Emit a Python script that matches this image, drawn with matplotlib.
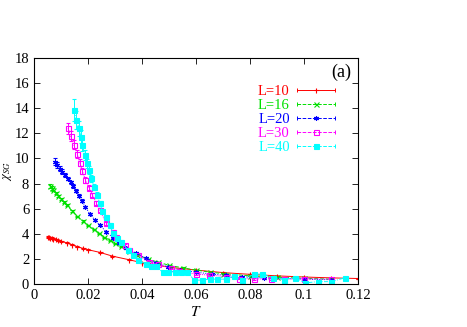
import matplotlib
matplotlib.use("Agg")
import matplotlib.pyplot as plt
from matplotlib.lines import Line2D
from matplotlib.legend_handler import HandlerBase

plt.rcParams['font.family'] = ['Liberation Serif', 'DejaVu Serif']
plt.rcParams['mathtext.fontset'] = 'stix'

# data
T10 = [0.005, 0.0055, 0.006, 0.0065, 0.007, 0.008, 0.009, 0.010, 0.012, 0.014, 0.016, 0.018,
       0.020, 0.0245, 0.029, 0.035, 0.040, 0.050, 0.060, 0.070, 0.080, 0.090, 0.100, 0.110, 0.120]
X10 = [3.75, 3.72, 3.70, 3.67, 3.63, 3.56, 3.50, 3.42, 3.28, 3.13, 2.98, 2.85,
       2.74, 2.52, 2.23, 1.95, 1.70, 1.35, 1.12, 0.92, 0.78, 0.66, 0.57, 0.50, 0.45]
E10 = [0.05, 0.05, 0.05, 0.05, 0.05, 0.04, 0.04, 0.04, 0.04, 0.04, 0.03, 0.03,
       0.03, 0.03, 0.03, 0.03, 0.02, 0.02, 0.02, 0.02, 0.02, 0.02, 0.02, 0.02, 0.02]

T16 = [0.006, 0.0065, 0.007, 0.008, 0.009, 0.010, 0.011, 0.012, 0.014, 0.016, 0.018, 0.020,
       0.022, 0.024, 0.026, 0.028, 0.030, 0.032, 0.035, 0.038, 0.042, 0.046, 0.050, 0.055,
       0.060, 0.065, 0.070, 0.080, 0.090, 0.100, 0.110]
X16 = [7.80, 7.65, 7.50, 7.25, 7.00, 6.75, 6.50, 6.28, 5.85, 5.40, 5.02, 4.68,
       4.35, 4.05, 3.75, 3.50, 3.25, 3.00, 2.65, 2.35, 2.00, 1.75, 1.50, 1.30,
       1.12, 0.96, 0.84, 0.66, 0.55, 0.47, 0.40]
E16 = [0.15, 0.12, 0.12, 0.10, 0.10, 0.08, 0.08, 0.08, 0.07, 0.06, 0.06, 0.05,
       0.05, 0.05, 0.04, 0.04, 0.04, 0.04, 0.03, 0.03, 0.03, 0.03, 0.03, 0.03,
       0.02, 0.02, 0.02, 0.02, 0.02, 0.02, 0.02]

T20 = [0.0077, 0.0085, 0.0095, 0.0105, 0.0115, 0.0125, 0.0135, 0.0145, 0.0155, 0.0165,
       0.0177, 0.0190, 0.0206, 0.0225, 0.0243, 0.0268, 0.0292, 0.0315, 0.0340, 0.0378,
       0.0415, 0.0452, 0.0494, 0.0540, 0.0600, 0.0660, 0.0710, 0.0770, 0.0850, 0.0930,
       0.1000, 0.1100]
X20 = [9.75, 9.50, 9.20, 8.95, 8.70, 8.40, 8.10, 7.80, 7.45, 7.05, 6.65, 6.15,
       5.60, 5.10, 4.70, 4.15, 3.70, 3.30, 2.90, 2.45, 2.05, 1.72, 1.38, 1.15,
       0.95, 0.80, 0.70, 0.60, 0.50, 0.45, 0.40, 0.35]
E20 = [0.25, 0.22, 0.20, 0.18, 0.16, 0.15, 0.14, 0.13, 0.12, 0.11, 0.10, 0.10,
       0.09, 0.08, 0.07, 0.07, 0.06, 0.06, 0.05, 0.05, 0.05, 0.04, 0.04, 0.04,
       0.04, 0.04, 0.04, 0.04, 0.04, 0.04, 0.04, 0.04]

T30 = [0.0126, 0.0135, 0.0147, 0.0160, 0.0169, 0.0179, 0.0190, 0.0204, 0.0216, 0.0231,
       0.0243, 0.0268, 0.0292, 0.0305, 0.0335, 0.0350, 0.0384, 0.0427, 0.0458, 0.0507,
       0.0538, 0.0600, 0.0648, 0.0710, 0.0759, 0.0815, 0.0876, 0.0925, 0.1000, 0.1100]
X30 = [12.40, 11.75, 11.10, 10.36, 9.67, 9.00, 8.29, 7.67, 7.09, 6.43,
       5.90, 4.84, 4.17, 3.77, 3.10, 2.70, 2.30, 1.78, 1.57, 1.25,
       1.03, 0.80, 0.72, 0.60, 0.45, 0.42, 0.42, 0.40, 0.43, 0.40]
E30 = [0.45, 0.40, 0.35, 0.30, 0.28, 0.25, 0.22, 0.20, 0.18, 0.16,
       0.15, 0.12, 0.10, 0.10, 0.08, 0.08, 0.07, 0.06, 0.06, 0.05,
       0.05, 0.05, 0.05, 0.05, 0.05, 0.05, 0.05, 0.05, 0.05, 0.05]

T40 = [0.0147, 0.0157, 0.0166, 0.0173, 0.0178, 0.0188, 0.0196, 0.0204, 0.0212, 0.0222,
       0.0233, 0.0243, 0.0253, 0.0268, 0.0280, 0.0292, 0.0307, 0.0323, 0.0347, 0.0366,
       0.0384, 0.0415, 0.0434, 0.0452, 0.0476, 0.0494, 0.0520, 0.0543, 0.0568, 0.0593,
       0.0620, 0.0650, 0.0678, 0.0709, 0.0740, 0.0770, 0.0814, 0.0845, 0.0886, 0.0925,
       0.0965, 0.1004, 0.1050, 0.1100, 0.1150]
X40 = [13.86, 13.07, 12.40, 11.74, 11.08, 10.28, 9.62, 9.08, 8.42, 7.75,
       7.09, 6.43, 5.82, 5.36, 4.70, 4.09, 3.64, 3.37, 2.71, 2.31,
       1.91, 1.59, 1.46, 1.43, 0.93, 0.98, 0.98, 0.98, 0.93, 0.32,
       0.32, 0.40, 0.40, 0.40, 0.66, 0.32, 0.80, 0.80, 0.53, 0.37,
       0.53, 0.10, 0.20, 0.20, 0.50]
E40 = [0.90, 0.70, 0.60, 0.50, 0.45, 0.40, 0.35, 0.30, 0.28, 0.25,
       0.22, 0.20, 0.18, 0.16, 0.15, 0.14, 0.12, 0.11, 0.10, 0.09,
       0.08, 0.08, 0.07, 0.07, 0.07, 0.07, 0.07, 0.07, 0.07, 0.07,
       0.07, 0.07, 0.07, 0.07, 0.07, 0.07, 0.07, 0.07, 0.07, 0.07,
       0.07, 0.07, 0.07, 0.07, 0.07]

series = [
    ("L=10", T10, X10, E10, "#ff0000", "-", "+", "#ff0000"),
    ("L=16", T16, X16, E16, "#00e000", (0, (4, 2)), "x", "#00e000"),
    ("L=20", T20, X20, E20, "#0000ff", (0, (1, 1.5)), (6, 2, 0), "#0000ff"),
    ("L=30", T30, X30, E30, "#ff00ff", (0, (1, 1)), "s", "none"),
    ("L=40", T40, X40, E40, "#00ffff", (0, (4, 1.5, 1, 1.5)), "s", "#00ffff"),
]


# gnuplot style key sample: line with end caps and the point in the middle
class KeyHandler(HandlerBase):
    def create_artists(self, legend, orig, xd, yd, w, h, fs, trans):
        y = yd + h / 2
        c = orig.get_color()
        line = Line2D([xd, xd + w], [y, y], color=c, ls=orig.get_linestyle(), lw=0.7)
        caps = Line2D([xd, xd + w], [y, y], color=c, ls='none', marker='|', ms=3, mew=0.7)
        pt = Line2D([xd + w / 2], [y], color=c, ls='none', marker=orig.get_marker(),
                    ms=orig.get_markersize(), mfc=orig.get_markerfacecolor(),
                    mec=c, mew=0.8)
        for a in (line, caps, pt):
            a.set_transform(trans)
        return [line, caps, pt]


fig = plt.figure(figsize=(4.67, 3.27), dpi=100)
ax = fig.add_axes([0.073, 0.131, 0.694, 0.692])

handles = []
for name, t, x, e, c, ls, mk, mfc in series:
    ax.errorbar(t, x, yerr=e, color=c, ls=ls, lw=0.7, marker=mk, ms=3.6,
                mfc=mfc, mec=c, mew=0.8, elinewidth=0.7, capsize=1.5)
    handles.append(Line2D([], [], color=c, ls=ls, marker=mk, ms=3.6, mfc=mfc, label=name))

ax.set_xlim(0, 0.12)
ax.set_ylim(0, 18)
ax.set_xticks([0, 0.02, 0.04, 0.06, 0.08, 0.1, 0.12])
ax.set_xticklabels(["0", "0.02", "0.04", "0.06", "0.08", "0.1", "0.12"])
ax.set_yticks(range(0, 19, 2))
ax.tick_params(direction='in', top=True, right=True, labelsize=10.5, length=4, width=0.6)
for sp in ax.spines.values():
    sp.set_linewidth(0.8)

ax.set_xlabel(r"$T$", fontsize=11, labelpad=2)
ax.set_ylabel(r"$\chi_{SG}$", fontsize=9)
ax.yaxis.set_label_coords(-0.062, 0.5)

ax.text(0.978, 0.975, "(a)", transform=ax.transAxes, ha='right', va='top', fontsize=13)

leg = ax.legend(handles=handles, loc='upper right', bbox_to_anchor=(0.96, 0.925),
                frameon=False, markerfirst=False, handlelength=2.6, labelspacing=0.05,
                fontsize=10.5, borderpad=0.2, handletextpad=0.5,
                handler_map={Line2D: KeyHandler()})
for txt, s in zip(leg.get_texts(), series):
    txt.set_color(s[4])

fig.savefig("out.png", dpi=100)
